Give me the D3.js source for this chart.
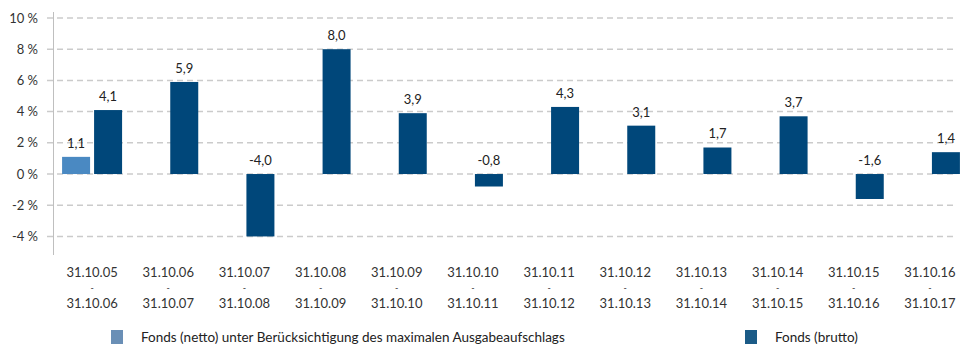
<!DOCTYPE html>
<html>
<head>
<meta charset="utf-8">
<script src="https://cdn.jsdelivr.net/npm/d3@7"></script>
<style>
  body { margin: 0; background: #fff; }
  svg { display: block; font-family: Lato, "Open Sans", sans-serif; }
</style>
</head>
<body>
<div id="chart"></div>
<script>
// Zeiträume (jeweils von - bis)
const periodStart = ["31.10.05", "31.10.06", "31.10.07", "31.10.08", "31.10.09", "31.10.10",
                     "31.10.11", "31.10.12", "31.10.13", "31.10.14", "31.10.15", "31.10.16"];
const periodEnd   = ["31.10.06", "31.10.07", "31.10.08", "31.10.09", "31.10.10", "31.10.11",
                     "31.10.12", "31.10.13", "31.10.14", "31.10.15", "31.10.16", "31.10.17"];

// Wertentwicklung in %
const netto  = [1.1, null, null, null, null, null, null, null, null, null, null, null];
const brutto = [4.1, 5.9, -4.0, 8.0, 3.9, -0.8, 4.3, 3.1, 1.7, 3.7, -1.6, 1.4];

const yTicks = [-4, -2, 0, 2, 4, 6, 8, 10];
const seriesNames = ["Fonds (netto) unter Berücksichtigung des maximalen Ausgabeaufschlags", "Fonds (brutto)"];

const width = 960, height = 344;
const plot = { left: 54, right: 968, top: 18, bottom: 255 };

const svg = d3.select("#chart").append("svg")
  .attr("width", width)
  .attr("height", height);

const x = d3.scaleBand()
  .domain(periodStart)
  .range([plot.left, plot.right]);

const y = d3.scaleLinear()
  .domain([-5.19, 10])
  .range([plot.bottom, plot.top]);

// deutsches Format mit Komma und normalem Bindestrich
const fmt = v => v.toFixed(1).replace(".", ",");

// Gitterlinien
svg.append("g")
  .selectAll("line")
  .data(yTicks)
  .join("line")
  .attr("x1", 47)
  .attr("x2", 956)
  .attr("y1", d => y(d))
  .attr("y2", d => y(d))
  .attr("stroke", "#cbcbcb")
  .attr("stroke-width", 1.5)
  .attr("stroke-dasharray", "6,4");

// Y-Achse
svg.append("line")
  .attr("x1", plot.left - 0.5).attr("x2", plot.left - 0.5)
  .attr("y1", plot.top - 6).attr("y2", plot.bottom)
  .attr("stroke", "#bfbfbf");

svg.append("g")
  .selectAll("text")
  .data(yTicks)
  .join("text")
  .attr("x", 38)
  .attr("y", d => y(d))
  .attr("dy", "0.35em")
  .attr("text-anchor", "end")
  .attr("font-size", 13)
  .attr("fill", "#333")
  .text(d => d + " %");

const barW = 28;
const colNetto = "#4a89c2", colBrutto = "#00477a";

// Balken netto (links in der Gruppe)
const nettoData = periodStart.map((p, i) => ({ p, v: netto[i] })).filter(d => d.v !== null);
svg.append("g")
  .selectAll("rect")
  .data(nettoData)
  .join("rect")
  .attr("x", d => x(d.p) + x.bandwidth() / 2 - 2 - barW)
  .attr("width", barW)
  .attr("y", d => y(Math.max(0, d.v)))
  .attr("height", d => Math.abs(y(d.v) - y(0)))
  .attr("fill", colNetto);

// Balken brutto (rechts in der Gruppe)
const bruttoData = periodStart.map((p, i) => ({ p, v: brutto[i] }));
svg.append("g")
  .selectAll("rect")
  .data(bruttoData)
  .join("rect")
  .attr("x", d => x(d.p) + x.bandwidth() / 2 + 2)
  .attr("width", barW)
  .attr("y", d => y(Math.max(0, d.v)))
  .attr("height", d => Math.abs(y(d.v) - y(0)))
  .attr("fill", colBrutto);

// Wertbeschriftungen
const labelG = svg.append("g")
  .attr("font-size", 13)
  .attr("fill", "#222")
  .attr("text-anchor", "middle");

labelG.selectAll("text.n")
  .data(nettoData)
  .join("text")
  .attr("class", "n")
  .attr("x", d => x(d.p) + x.bandwidth() / 2 - 2 - barW / 2)
  .attr("y", d => y(Math.max(0, d.v)) - 9)
  .text(d => fmt(d.v));

labelG.selectAll("text.b")
  .data(bruttoData)
  .join("text")
  .attr("class", "b")
  .attr("x", d => x(d.p) + x.bandwidth() / 2 + 2 + barW / 2)
  .attr("y", d => y(Math.max(0, d.v)) - 9)
  .text(d => fmt(d.v));

// X-Achsenbeschriftung (dreizeilig: von / - / bis)
const xg = svg.append("g")
  .attr("fill", "#333")
  .attr("text-anchor", "middle");

periodStart.forEach((p, i) => {
  const cx = x(p) + x.bandwidth() / 2;
  xg.append("text").attr("x", cx).attr("y", 277).attr("font-size", 13).text(p);
  xg.append("text").attr("x", cx).attr("y", 291).attr("font-size", 9).text("-");
  xg.append("text").attr("x", cx).attr("y", 308).attr("font-size", 13).text(periodEnd[i]);
});

// Legende
const legend = [
  { name: seriesNames[0], color: "#6a8fb6", x: 111 },
  { name: seriesNames[1], color: "#1b5b87", x: 745 }
];
const lg = svg.append("g").selectAll("g")
  .data(legend)
  .join("g")
  .attr("transform", d => `translate(${d.x},330)`);
lg.append("rect")
  .attr("width", 12).attr("height", 14)
  .attr("fill", d => d.color);
lg.append("text")
  .attr("x", 30).attr("y", 12)
  .attr("font-size", 13.5)
  .attr("fill", "#222")
  .text(d => d.name);
</script>
</body>
</html>
